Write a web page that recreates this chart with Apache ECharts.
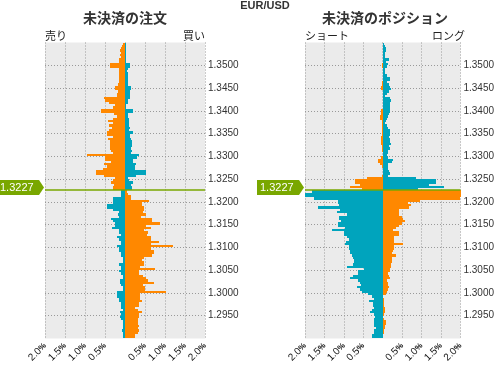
<!DOCTYPE html>
<html><head><meta charset="utf-8">
<script src="https://cdn.jsdelivr.net/npm/echarts@6/dist/echarts.min.js"></script>
<style>html,body{margin:0;padding:0;background:#fff}#c{width:497px;height:365px}</style>
</head><body><div id="c"></div>
<script>
// ---- data ----
const PAIR = 'EUR/USD';
const CURRENT_PRICE = 1.3227;
const BUCKET = 0.0005;
const PRICES = [
1.3545,1.3540,1.3535,1.3530,1.3525,1.3520,1.3515,1.3510,1.3505,1.3500,
1.3495,1.3490,1.3485,1.3480,1.3475,1.3470,1.3465,1.3460,1.3455,1.3450,
1.3445,1.3440,1.3435,1.3430,1.3425,1.3420,1.3415,1.3410,1.3405,1.3400,
1.3395,1.3390,1.3385,1.3380,1.3375,1.3370,1.3365,1.3360,1.3355,1.3350,
1.3345,1.3340,1.3335,1.3330,1.3325,1.3320,1.3315,1.3310,1.3305,1.3300,
1.3295,1.3290,1.3285,1.3280,1.3275,1.3270,1.3265,1.3260,1.3255,1.3250,
1.3245,1.3240,1.3235,1.3230,1.3225,1.3220,1.3215,1.3210,1.3205,1.3200,
1.3195,1.3190,1.3185,1.3180,1.3175,1.3170,1.3165,1.3160,1.3155,1.3150,
1.3145,1.3140,1.3135,1.3130,1.3125,1.3120,1.3115,1.3110,1.3105,1.3100,
1.3095,1.3090,1.3085,1.3080,1.3075,1.3070,1.3065,1.3060,1.3055,1.3050,
1.3045,1.3040,1.3035,1.3030,1.3025,1.3020,1.3015,1.3010,1.3005,1.3000,
1.2995,1.2990,1.2985,1.2980,1.2975,1.2970,1.2965,1.2960,1.2955,1.2950,
1.2945,1.2940,1.2935,1.2930,1.2925,1.2920,1.2915,1.2910,1.2905,1.2900];
// open orders (% of total): sell side (left) and buy side (right)
const ORDERS_SELL = [
0.05,0.08,0.10,0.12,0.09,0.12,0.11,0.14,0.16,0.37,
0.37,0.16,0.14,0.16,0.16,0.16,0.14,0.16,0.18,0.24,
0.24,0.18,0.21,0.21,0.52,0.49,0.39,0.25,0.29,0.59,
0.59,0.27,0.21,0.29,0.42,0.29,0.39,0.33,0.39,0.44,
0.44,0.29,0.42,0.37,0.37,0.37,0.37,0.34,0.31,0.94,
0.51,0.51,0.35,0.52,0.46,0.56,0.72,0.72,0.53,0.24,
0.30,0.34,0.28,0.30,0.30,0.11,0.09,0.09,0.31,0.31,
0.31,0.46,0.46,0.29,0.16,0.18,0.16,0.34,0.31,0.26,
0.26,0.32,0.14,0.14,0.09,0.19,0.14,0.11,0.09,0.19,
0.14,0.14,0.11,0.11,0.04,0.06,0.06,0.14,0.09,0.11,
0.14,0.09,0.06,0.06,0.12,0.12,0.09,0.04,0.04,0.19,
0.21,0.21,0.14,0.14,0.09,0.09,0.09,0.06,0.12,0.09,
0.12,0.09,0.06,0.06,0.06,0.06,0.08,0.06,0.06,0.06];
const ORDERS_BUY = [
0.03,0.03,0.03,0.03,0.03,0.03,0.03,0.03,0.03,0.13,
0.13,0.08,0.06,0.08,0.075,0.08,0.08,0.08,0.08,0.16,
0.16,0.125,0.13,0.13,0.13,0.07,0.08,0.03,0.03,0.21,
0.21,0.08,0.08,0.10,0.10,0.10,0.10,0.13,0.11,0.21,
0.13,0.13,0.16,0.18,0.18,0.18,0.16,0.18,0.15,0.36,
0.30,0.21,0.21,0.28,0.24,0.26,0.52,0.52,0.27,0.08,
0.10,0.20,0.16,0.17,0.17,0.04,0.08,0.15,0.15,0.61,
0.43,0.43,0.48,0.48,0.44,0.52,0.40,0.68,0.68,0.88,
0.52,0.66,0.48,0.58,0.56,0.66,0.66,0.86,0.66,1.21,
0.66,0.73,0.73,0.68,0.48,0.43,0.48,0.48,0.38,0.76,
0.36,0.36,0.44,0.52,0.58,0.73,0.46,0.50,0.50,1.03,
0.38,0.38,0.38,0.43,0.36,0.36,0.26,0.33,0.43,0.34,
0.36,0.33,0.33,0.33,0.36,0.33,0.36,0.33,0.25,0.25];
// open positions (% of total): short (left) and long (right)
const POS_SHORT = [
0,0,0,0,0,0,0,0,0,0.03,
0.03,0,0,0,0,0,0,0.03,0.03,0.05,
0.05,0,0,0,0,0,0,0,0,0.05,
0.05,0.05,0.06,0.06,0.03,0.03,0.03,0.03,0.03,0.03,
0.03,0.04,0.04,0.05,0.04,0.02,0.03,0.03,0,0,
0.04,0.13,0.13,0.06,0.03,0,0,0,0.03,0.41,
0.71,0.71,0.58,0.83,0.53,1.83,2.1,2.1,1.76,1.15,
1.15,1.12,1.66,1.11,1.18,0.93,1.13,1.13,1.08,1.15,
1.15,0.97,1.30,1.00,1.00,0.93,0.88,0.95,0.97,0.87,
0.86,0.84,0.84,0.80,0.76,0.73,0.74,0.76,0.91,0.47,
0.63,0.63,0.76,0.83,0.63,0.59,0.57,0.66,0.59,0.53,
0.37,0.28,0.22,0.36,0.26,0.24,0.22,0.28,0.32,0.22,
0.19,0.23,0.23,0.23,0.22,0.18,0.22,0.22,0.27,0.27];
const POS_LONG = [
0.04,0.05,0.09,0.08,0.05,0.05,0.07,0.16,0.09,0.13,
0.11,0.07,0.06,0.07,0.12,0.18,0.18,0.10,0.16,0.20,
0.21,0.16,0.12,0.05,0.20,0.22,0.18,0.18,0.18,0.18,
0.20,0.17,0.14,0.12,0.08,0.07,0.12,0.14,0.18,0.18,
0.18,0.16,0.18,0.20,0.21,0.17,0.18,0.13,0.13,0.12,
0.14,0.26,0.23,0.14,0.13,0.13,0.16,0.20,0.14,0.85,
1.37,1.37,1.20,1.57,0.90,2.1,2.1,2.1,1.98,0.97,
0.64,0.72,0.68,0.43,0.42,0.42,0.49,0.52,0.58,0.49,
0.43,0.34,0.27,0.42,0.42,0.28,0.28,0.28,0.51,0.30,
0.30,0.27,0.24,0.33,0.24,0.24,0.24,0.22,0.22,0.18,
0.18,0.14,0.17,0.18,0.12,0.13,0.13,0.17,0.13,0.12,
0.08,0.01,0.03,0.03,0.03,0.03,0.05,0.06,0.06,0.03,
0.02,0.03,0.08,0.08,0.05,0.07,0.04,0.03,0.02,0.02];

const PANELS = [
  {title:'未決済の注文', leftLabel:'売り', rightLabel:'買い', left:ORDERS_SELL, right:ORDERS_BUY},
  {title:'未決済のポジション', leftLabel:'ショート', rightLabel:'ロング', left:POS_SHORT, right:POS_LONG}
];

// ---- style ----
const ORANGE = '#ff8800', TEAL = '#00a4bd', GREEN = '#79a700';
const X_MIN = -2, X_MAX = 2, Y_MIN = 1.29, Y_MAX = 1.355;
const GRID_LEFTS = [45, 305], GRID_TOP = 42.5, GRID_W = 160, GRID_H = 300;
const CJK = '"Noto Sans CJK JP", sans-serif';
const LAT = '"Liberation Sans", Arial, sans-serif';

function barRender(side){
  return function(params, api){
    const p = api.value(0), v = api.value(1);
    if (!v) return null;
    const a = api.coord([0, p + BUCKET]);
    const b = api.coord([v, p]);
    const above = (p + BUCKET/2) > CURRENT_PRICE;
    const color = side === 'left' ? (above ? ORANGE : TEAL) : (above ? TEAL : ORANGE);
    const x0 = Math.round(Math.min(a[0], b[0])), x1 = Math.round(Math.max(a[0], b[0]));
    const y0 = Math.round(a[1]), y1 = Math.round(b[1]);
    return {type:'rect', shape:{x:x0, y:y0, width:x1-x0, height:y1-y0}, style:{fill:color}};
  };
}
function priceRender(params, api){
  const p = api.value(0);
  const s = api.coord([X_MIN, p]), e = api.coord([X_MAX, p]);
  const y = Math.round(s[1]);
  const tip = s[0] - 1, c = y - 2.5;
  return {type:'group', children:[
    {type:'line', shape:{x1:s[0], y1:y, x2:e[0], y2:y}, style:{stroke:GREEN, lineWidth:1.6}},
    {type:'polygon', shape:{points:[[tip-47,c-7.5],[tip-5,c-7.5],[tip,c],[tip-5,c+7.5],[tip-47,c+7.5]]}, style:{fill:GREEN}},
    {type:'text', x:tip-44, y:c, style:{text:p.toFixed(4), fill:'#fff', font:'11px '+LAT, verticalAlign:'middle', align:'left'}}
  ]};
}

const grids = [], xAxes = [], yAxes = [], series = [], graphic = [];
graphic.push({type:'text', x:265, y:6, style:{text:PAIR, font:'bold 11px '+LAT, fill:'#333', align:'center', verticalAlign:'middle'}});
PANELS.forEach((pn, i) => {
  const L = GRID_LEFTS[i];
  grids.push({left:L, top:GRID_TOP, width:GRID_W, height:GRID_H, show:true, backgroundColor:'#ebebeb', borderWidth:0});
  xAxes.push({type:'value', gridIndex:i, min:X_MIN, max:X_MAX, interval:0.5,
    axisLine:{show:false}, axisTick:{show:false},
    splitLine:{show:true, lineStyle:{color:'#999', type:[1,2], width:1}},
    axisLabel:{rotate:45, margin:6, color:'#111', fontSize:10, fontFamily:LAT,
      formatter:v => v === 0 ? '' : '{n|' + Math.abs(v).toFixed(1) + '}{p|%}',
      rich:{n:{fontSize:10, fontFamily:LAT, color:'#111'}, p:{fontSize:8, fontFamily:LAT, color:'#111', fontWeight:'bold'}}}});
  yAxes.push({type:'value', gridIndex:i, min:Y_MIN, max:Y_MAX, interval:0.005, position:'right',
    axisLine:{show:false}, axisTick:{show:false},
    splitLine:{show:true, showMinLine:false, showMaxLine:false, lineStyle:{color:'#999', type:[1,2], width:1}},
    axisLabel:{margin:3, color:'#333', fontSize:10, fontFamily:LAT,
      formatter:v => (v <= Y_MIN + 1e-9 || v >= Y_MAX - 1e-9) ? '' : v.toFixed(4)}});
  series.push({type:'custom', xAxisIndex:i, yAxisIndex:i, clip:true, z:2,
    data: PRICES.map((p, k) => [p, -pn.left[k]]), encode:{x:1, y:0}, renderItem: barRender('left')});
  series.push({type:'custom', xAxisIndex:i, yAxisIndex:i, clip:true, z:2,
    data: PRICES.map((p, k) => [p, pn.right[k]]), encode:{x:1, y:0}, renderItem: barRender('right')});
  series.push({type:'custom', xAxisIndex:i, yAxisIndex:i, clip:false, z:5,
    data: [[CURRENT_PRICE]], encode:{y:0}, renderItem: priceRender});
  graphic.push({type:'text', x:L + GRID_W/2, y:18, style:{text:pn.title, font:'bold 14px '+CJK, fill:'#333', align:'center', verticalAlign:'middle'}});
  graphic.push({type:'text', x:L, y:36, style:{text:pn.leftLabel, font:'11px '+CJK, fill:'#222', align:'left', verticalAlign:'middle'}});
  graphic.push({type:'text', x:L + GRID_W, y:36, style:{text:pn.rightLabel, font:'11px '+CJK, fill:'#222', align:'right', verticalAlign:'middle'}});
});

const chart = echarts.init(document.getElementById('c'), null, {renderer:'canvas'});
chart.setOption({animation:false, backgroundColor:'#fff', grid:grids, xAxis:xAxes, yAxis:yAxes, series:series, graphic:graphic});
</script></body></html>
